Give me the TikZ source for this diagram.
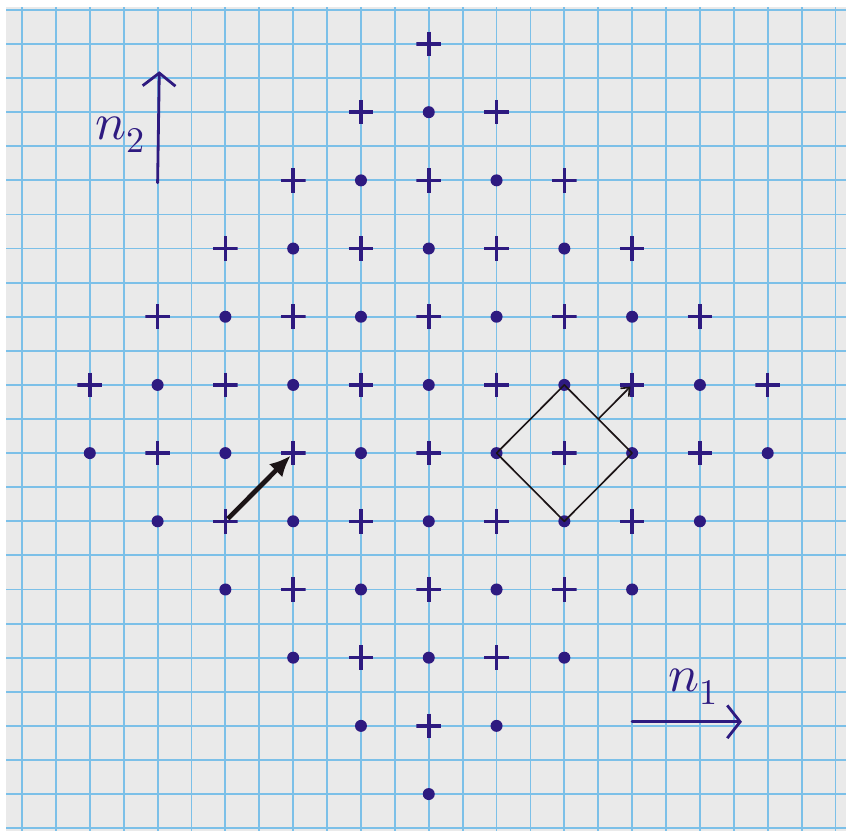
\documentclass[tikz,border=0pt]{standalone}
\usepackage{unicode-math}
\usetikzlibrary{arrows.meta,calc}
\definecolor{ink}{HTML}{2E1A80}
\definecolor{gridblue}{HTML}{7CC0E8}
\definecolor{paper}{HTML}{EAEAEA}
\definecolor{pen}{HTML}{1C1416}
\begin{document}
\begin{tikzpicture}[x=1.017cm,y=1.023cm,
 plusmark/.style={minimum size=0.74cm,inner sep=0pt,path picture={
   \draw[ink,line width=3pt] (path picture bounding box.north)--(path picture bounding box.south)
     (path picture bounding box.west)--(path picture bounding box.east);}},
 dotmark/.style={circle,fill=ink,inner sep=0pt,minimum size=0.36cm},
 gridline/.style={gridblue,line width=1.6pt},
 axis/.style={ink,line width=2.4pt,line cap=round,-{Straight Barb[length=11pt,width=28pt,line width=2.4pt]}},
 label/.style={ink,font=\fontsize{44}{48}\selectfont,anchor=base west,inner sep=0pt}]
\useasboundingbox (-12.65,-11.08) rectangle (12.31,13.29);
\fill[white] (-12.65,-11.08) rectangle (12.31,13.29);
\fill[paper] (-12.47,-11.08) rectangle (12.31,13.09);
% squared paper
\foreach \x in {-12,...,12}
  \draw[gridline] (\x,-11.08)--(\x,13.09);
\foreach \y in {-11,...,13}
  \draw[gridline] (-12.47,\y)--(12.31,\y);
% lattice: crosses and dots
\foreach \i in {-5,...,5}
 \foreach \j in {-5,...,6}{
  \pgfmathsetmacro\dist{abs(\i)+abs(\j-0.5)}
  \pgfmathtruncatemacro\a{\i+5}
  \pgfmathtruncatemacro\b{\j+5}
  \pgfmathtruncatemacro\odd{mod(\i+\j+20,2)}
  \ifdim\dist pt<5.6pt
    \ifnum\odd=0
      \node[plusmark] (p\a-\b) at (2*\i,2*\j) {};
    \else
      \node[dotmark] (p\a-\b) at (2*\i,2*\j) {};
    \fi
  \fi}
% cell and shift vectors
\draw[pen,line width=1.4pt,line join=round] (p7-6.center)--(p6-5.center)--(p7-4.center)--(p8-5.center)--cycle;
\draw[pen,line width=1.4pt,shorten >=2pt,-{Straight Barb[length=6pt,width=10pt]}]
  ($(p7-6.center)!0.5!(p8-5.center)$)--(p8-6.center);
\draw[pen,line width=4pt,shorten <=3pt,shorten >=3pt,-{Latex[length=18pt,width=16pt]}]
  (p2-4.center)--(p3-5.center);
% axes
\coordinate (n2tail) at (-8,7.93);
\coordinate (n2head) at (-7.95,11.2);
\draw[axis] (n2tail)--(n2head);
\node[label] (n2lab) at (-9.84,9.19) {$n_2$};
\coordinate (n1tail) at (6,-7.88);
\coordinate (n1head) at (9.24,-7.88);
\draw[axis] (n1tail)--(n1head);
\node[label] (n1lab) at (7.06,-7.0) {$n_1$};
\end{tikzpicture}
\end{document}
